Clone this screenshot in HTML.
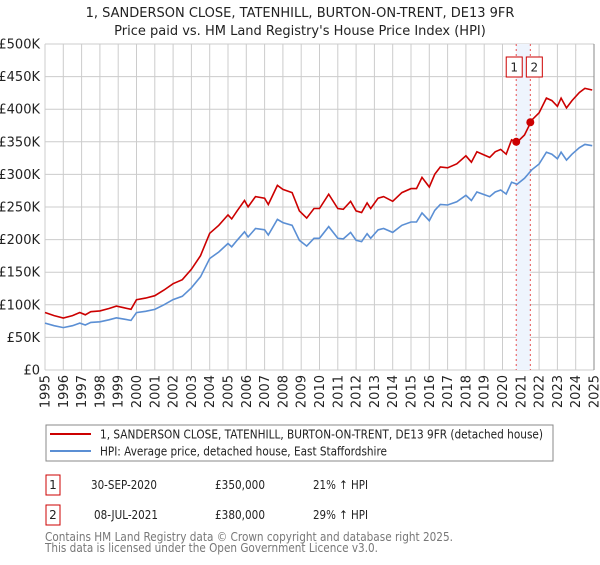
<!DOCTYPE html>
<html><head><meta charset="utf-8"><style>
body{margin:0;background:#fff;font-family:"Liberation Sans","DejaVu Sans",sans-serif;}
svg text{font-family:"DejaVu Sans","Liberation Sans",sans-serif;}
</style></head><body>
<svg id="chart" width="600" height="560" viewBox="0 0 600 560" xmlns="http://www.w3.org/2000/svg">
<text x="300" y="17" text-anchor="middle" font-size="13" fill="#222">1, SANDERSON CLOSE, TATENHILL, BURTON-ON-TRENT, DE13 9FR</text>
<text x="300" y="35" text-anchor="middle" font-size="13" fill="#222">Price paid vs. HM Land Registry's House Price Index (HPI)</text>
<g id="grid"></g>
<g id="band"></g>
<g id="yaxis"></g>
<g id="xaxis"></g>
<g id="series"></g>
<rect x="46" y="425" width="507" height="36" fill="#fff" stroke="#888"/>
<line x1="50" y1="434" x2="91" y2="434" stroke="#cc0000" stroke-width="2"/>
<text x="100" y="438.5" font-size="12" fill="#222" textLength="443" lengthAdjust="spacingAndGlyphs">1, SANDERSON CLOSE, TATENHILL, BURTON-ON-TRENT, DE13 9FR (detached house)</text>
<line x1="50" y1="451" x2="91" y2="451" stroke="#5b8fd4" stroke-width="2"/>
<text x="100" y="455.5" font-size="12" fill="#222" textLength="287" lengthAdjust="spacingAndGlyphs">HPI: Average price, detached house, East Staffordshire</text>
<rect x="46" y="475" width="14" height="20" fill="#fff" stroke="#cc0000"/>
<text x="53" y="489" text-anchor="middle" font-size="12" fill="#222">1</text>
<text x="91" y="489" font-size="12" fill="#222" textLength="66" lengthAdjust="spacingAndGlyphs">30-SEP-2020</text>
<text x="215" y="489" font-size="12" fill="#222" textLength="50" lengthAdjust="spacingAndGlyphs">£350,000</text>
<text x="313" y="489" font-size="12" fill="#222" textLength="55" lengthAdjust="spacingAndGlyphs">21% ↑ HPI</text>
<rect x="46" y="505" width="14" height="20" fill="#fff" stroke="#cc0000"/>
<text x="53" y="519" text-anchor="middle" font-size="12" fill="#222">2</text>
<text x="94" y="519" font-size="12" fill="#222" textLength="64" lengthAdjust="spacingAndGlyphs">08-JUL-2021</text>
<text x="215" y="519" font-size="12" fill="#222" textLength="50" lengthAdjust="spacingAndGlyphs">£380,000</text>
<text x="313" y="519" font-size="12" fill="#222" textLength="55" lengthAdjust="spacingAndGlyphs">29% ↑ HPI</text>
<text x="45" y="541" font-size="12" fill="#777" textLength="408" lengthAdjust="spacingAndGlyphs">Contains HM Land Registry data © Crown copyright and database right 2025.</text>
<text x="45" y="552" font-size="12" fill="#777" textLength="333" lengthAdjust="spacingAndGlyphs">This data is licensed under the Open Government Licence v3.0.</text>
</svg>
<script>
const hpiYears=[1995,1995.5,1996,1996.5,1996.9,1997.2,1997.5,1998,1998.5,1998.9,1999.3,1999.7,2000,2000.5,2001,2001.5,2002,2002.5,2003,2003.5,2004,2004.5,2005,2005.2,2005.5,2005.9,2006.1,2006.5,2007,2007.2,2007.7,2008,2008.5,2008.9,2009.3,2009.7,2010,2010.5,2011,2011.3,2011.7,2012,2012.3,2012.6,2012.8,2013.2,2013.5,2014,2014.5,2015,2015.3,2015.6,2016,2016.3,2016.6,2017,2017.5,2018,2018.3,2018.6,2019,2019.3,2019.6,2019.9,2020.2,2020.5,2020.8,2021.2,2021.6,2022,2022.4,2022.7,2023,2023.2,2023.5,2023.8,2024.2,2024.5,2024.9];
const hpiValues=[72,68,65,68,72,69,73,74,77,80,78,76,88,90,93,100,108,113,126,143,171,181,194,189,199,212,204,217,215,207,231,226,222,199,190,202,202,220,202,201,211,199,197,209,202,215,217,211,222,227,227,241,229,245,254,253,258,268,260,273,269,266,273,276,270,288,285,294,307,316,334,331,324,334,322,331,341,346,344];
const saleYears=[2020.75,2021.52];
const salePrices=[350,380];
const yTicks=[0,50,100,150,200,250,300,350,400,450,500];
const yTickLabels=["£0","£50K","£100K","£150K","£200K","£250K","£300K","£350K","£400K","£450K","£500K"];
const xTicks=[1995,1996,1997,1998,1999,2000,2001,2002,2003,2004,2005,2006,2007,2008,2009,2010,2011,2012,2013,2014,2015,2016,2017,2018,2019,2020,2021,2022,2023,2024,2025];

const NS="http://www.w3.org/2000/svg";
const X0=45,X1=594,Y0=370,Y1=44;
const xs=y=>X0+(y-1995)/30*(X1-X0);
const ys=v=>Y0-v/500*(Y0-Y1);
function mk(tag,attrs,parent){const e=document.createElementNS(NS,tag);for(const k in attrs)e.setAttribute(k,attrs[k]);parent.appendChild(e);return e;}
const grid=document.getElementById('grid'),ya=document.getElementById('yaxis'),xa=document.getElementById('xaxis'),ser=document.getElementById('series'),band=document.getElementById('band');
yTicks.forEach((t,i)=>{
 const l=mk('line',{x1:X0,x2:X1,y1:ys(t),y2:ys(t),stroke:'#cccccc','stroke-width':1},grid);
 
 
 const tx=mk('text',{x:40,y:ys(t)+4.5,'text-anchor':'end','font-size':13,fill:'#222'},ya);
 tx.textContent=yTickLabels[i];
 
 
});
xTicks.forEach(t=>{
 const l=mk('line',{x1:xs(t),x2:xs(t),y1:Y1,y2:Y0,stroke:t===2025?'#888':'#cccccc','stroke-width':1},grid);
 
 
 const tx=mk('text',{x:0,y:0,'text-anchor':'end','font-size':13,fill:'#222',transform:`translate(${xs(t)+4.5},375) rotate(-90)`},xa);
 tx.textContent=String(t);
 
 
});
function hpiAt(y){for(let i=1;i<hpiYears.length;i++){if(y<=hpiYears[i]){const f=(y-hpiYears[i-1])/(hpiYears[i]-hpiYears[i-1]);return hpiValues[i-1]+f*(hpiValues[i]-hpiValues[i-1]);}}return hpiValues[hpiValues.length-1];}
const ratios=saleYears.map((y,i)=>salePrices[i]/hpiAt(y));
const br=mk('rect',{x:xs(saleYears[0]),y:Y1,width:xs(saleYears[1])-xs(saleYears[0]),height:Y0-Y1,fill:'#eef4fd'},band);


saleYears.forEach((y,i)=>{
 const l=mk('line',{x1:xs(y),x2:xs(y),y1:Y1,y2:Y0,stroke:'#e85050','stroke-width':1,'stroke-dasharray':'2,3'},band);
 
 
 const r=mk('rect',{x:xs(y)-10+i*6,y:57,width:16,height:20,fill:'#fff',stroke:'#cc0000'},band);
 
 
 const t=mk('text',{x:xs(y)-2+i*6,y:71.5,'text-anchor':'middle','font-size':12,fill:'#222'},band);
 t.textContent=String(i+1);
 
 
});
const bp=hpiYears.map((y,i)=>`${i?'L':'M'}${xs(y).toFixed(1)},${ys(hpiValues[i]).toFixed(1)}`).join('');
const bl=mk('path',{d:bp,fill:'none',stroke:'#5b8fd4','stroke-width':1.6},ser);


const rp=hpiYears.map((y,i)=>{const r=y<saleYears[1]?ratios[0]:ratios[1];return `${i?'L':'M'}${xs(y).toFixed(1)},${ys(hpiValues[i]*r).toFixed(1)}`;}).join('');
const rl=mk('path',{d:rp,fill:'none',stroke:'#cc0000','stroke-width':1.6},ser);


saleYears.forEach((y,i)=>{
 const c=mk('circle',{cx:xs(y),cy:ys(salePrices[i]),r:4,fill:'#cc0000'},ser);
 
 
});
</script>
</body></html>
